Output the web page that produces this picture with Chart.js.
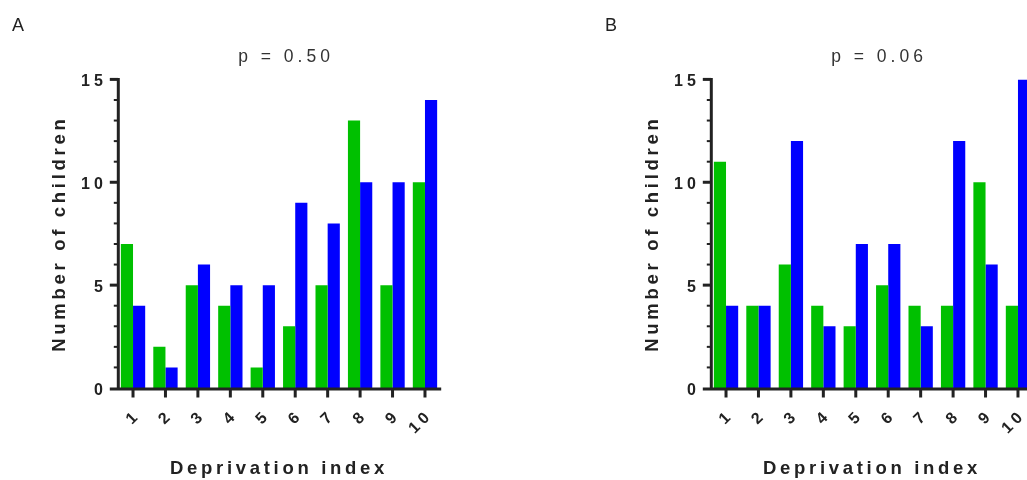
<!DOCTYPE html>
<html>
<head>
<meta charset="utf-8">
<script src="https://cdn.jsdelivr.net/npm/chart.js@4.4.1/dist/chart.umd.min.js"></script>
<style>
	html, body { margin: 0; padding: 0; background: #fff; overflow: hidden; }
	#page { position: relative; width: 1027px; height: 480px; overflow: hidden; }
	.panel { position: absolute; top: 0; width: 460px; height: 480px; }
	.panel canvas { display: block; }
	.tag { position: absolute; top: 15px; font: 18px "Liberation Sans", Arial, sans-serif; color: #222; }
</style>
</head>
<body>
<div id="page">
	<div class="panel" style="left:0"><canvas id="chartA" width="460" height="480"></canvas></div>
	<div class="panel" style="left:593px"><canvas id="chartB" width="460" height="480"></canvas></div>
	<div class="tag" style="left:12px">A</div>
	<div class="tag" style="left:605px">B</div>
</div>
<script>
const deprivationLabels = ["1", "2", "3", "4", "5", "6", "7", "8", "9", "10"];
const yMajorTicks = [0, 5, 10, 15];

const titleA = "p = 0.50";
const greenA = [7, 2, 5, 4, 1, 3, 5, 13, 5, 10];
const blueA = [4, 1, 6, 5, 5, 9, 8, 10, 10, 14];

const titleB = "p = 0.06";
const greenB = [11, 4, 6, 4, 3, 5, 4, 4, 10, 4];
const blueB = [4, 4, 12, 3, 7, 7, 3, 12, 6, 15];

const AXIS_COLOR = "#222";
const FONT = "'Liberation Sans', Arial, sans-serif";
const TICK_SPACING = "4px";
const AXIS_TITLE_SPACING = "3.7px";

// wide letter spacing on the canvas text; axis titles get a bit less
const spacedText = {
	id: "spacedText",
	beforeLayout(chart) { chart.ctx.letterSpacing = TICK_SPACING; },
	beforeDraw(chart) {
		chart.ctx.letterSpacing = TICK_SPACING;
		Object.values(chart.scales).forEach(function (s) {
			if (s._spacedTitle) return;
			const orig = s.drawTitle.bind(s);
			s.drawTitle = function () {
				const prev = this.ctx.letterSpacing;
				this.ctx.letterSpacing = AXIS_TITLE_SPACING;
				orig();
				this.ctx.letterSpacing = prev;
			};
			s._spacedTitle = true;
		});
	}
};

// "p = ..." heading above the plot
const panelTitle = {
	id: "panelTitle",
	afterDraw(chart, args, opts) {
		const { ctx, chartArea: a } = chart;
		ctx.save();
		ctx.letterSpacing = "4px";
		ctx.font = "normal 17.5px " + FONT;
		ctx.fillStyle = "#333";
		ctx.textAlign = "center";
		ctx.textBaseline = "middle";
		ctx.fillText(opts.text, (a.left + a.right) / 2 + 7, 57);
		ctx.restore();
	}
};

// axis lines with major/minor ticks, x line runs a little past the y axis
const axisLines = {
	id: "axisLines",
	afterDraw(chart) {
		const { ctx, chartArea: a, scales: { x, y } } = chart;
		const ax = a.left + 1.5;
		const ay = a.bottom + 1;
		ctx.save();
		ctx.strokeStyle = AXIS_COLOR;
		ctx.lineCap = "butt";

		ctx.lineWidth = 3;
		ctx.beginPath();
		ctx.moveTo(ax, a.top - 1.5);
		ctx.lineTo(ax, ay);
		ctx.moveTo(a.left - 7, ay);
		ctx.lineTo(a.right, ay);
		ctx.stroke();

		const max = yMajorTicks[yMajorTicks.length - 1];
		for (let v = 1; v <= max; v++) {
			const py = y.getPixelForValue(v);
			const major = yMajorTicks.includes(v);
			ctx.lineWidth = major ? 3 : 2;
			ctx.beginPath();
			ctx.moveTo(major ? a.left - 7 : a.left - 3, py);
			ctx.lineTo(ax, py);
			ctx.stroke();
		}

		ctx.lineWidth = 3;
		deprivationLabels.forEach(function (lab, i) {
			const px = x.getPixelForValue(i);
			ctx.beginPath();
			ctx.moveTo(px, ay);
			ctx.lineTo(px, ay + 8.5);
			ctx.stroke();
		});
		ctx.restore();
	}
};

function makeChart(id, title, green, blue) {
	const ctx = document.getElementById(id).getContext("2d");
	return new Chart(ctx, {
		type: "bar",
		data: {
			labels: deprivationLabels,
			datasets: [
				{
					label: "Series 1",
					data: green,
					backgroundColor: "#00c000",
					borderWidth: 0,
					categoryPercentage: 0.75,
					barPercentage: 1.0,
				},
				{
					label: "Series 2",
					data: blue,
					backgroundColor: "#0000ff",
					borderWidth: 0,
					categoryPercentage: 0.75,
					barPercentage: 1.0,
				},
			],
		},
		options: {
			responsive: false,
			animation: false,
			layout: { padding: { left: 0, right: 18.8, top: 79.4, bottom: 0 } },
			scales: {
				x: {
					grid: { display: false, drawTicks: false },
					border: { display: false },
					ticks: {
						color: AXIS_COLOR,
						font: { family: FONT, size: 16, weight: "bold" },
						minRotation: 45,
						maxRotation: 45,
						padding: 18,
						labelOffset: 5,
						autoSkip: false,
					},
					title: {
						display: true,
						text: "Deprivation index",
						color: AXIS_COLOR,
						font: { family: FONT, size: 18.5, weight: "bold" },
						padding: { top: 0, bottom: 0.4 },
					},
					afterFit: function (s) {
						s.height = 92;
						s.paddingLeft = s.paddingRight = s.paddingTop = s.paddingBottom = 0;
					},
				},
				y: {
					min: 0,
					max: 15,
					grid: { display: false, drawTicks: false },
					border: { display: false },
					afterBuildTicks: function (s) {
						s.ticks = yMajorTicks.map((v) => ({ value: v }));
					},
					ticks: {
						color: AXIS_COLOR,
						font: { family: FONT, size: 16, weight: "bold" },
						padding: 10,
						labelOffset: 2.5,
					},
					title: {
						display: true,
						text: "Number of children",
						color: AXIS_COLOR,
						font: { family: FONT, size: 18.5, weight: "bold" },
						padding: { top: 48.9, bottom: 0 },
					},
					afterFit: function (s) {
						s.width = 116.8;
						s.paddingLeft = s.paddingRight = s.paddingTop = s.paddingBottom = 0;
					},
				},
			},
			plugins: {
				legend: { display: false },
				tooltip: { enabled: false },
				title: { display: false },
				panelTitle: { text: title },
			},
		},
		plugins: [spacedText, panelTitle, axisLines],
	});
}

makeChart("chartA", titleA, greenA, blueA);
makeChart("chartB", titleB, greenB, blueB);
</script>
</body>
</html>
